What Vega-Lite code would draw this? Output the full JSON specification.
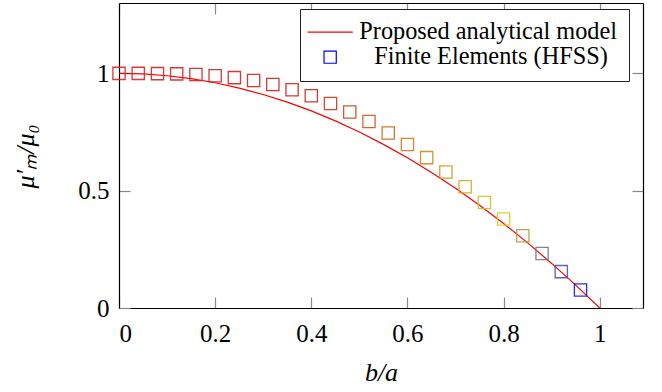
{
  "$schema": "https://vega.github.io/schema/vega-lite/v6.json",
  "autosize": "none",
  "width": 524,
  "height": 305,
  "padding": {"left": 119, "top": 3, "right": 19, "bottom": 84},
  "background": "white",
  "config": {
    "view": {"stroke": null},
    "font": "Liberation Serif",
    "style": {
      "guide-label": {"font": "Liberation Serif", "fontSize": 25, "fill": "black"},
      "guide-title": {"font": "Liberation Serif", "fontSize": 26, "fontStyle": "italic", "fontWeight": "normal", "fill": "black"}
    },
    "axis": {
      "grid": false,
      "labelFont": "Liberation Serif",
      "labelFontSize": 25,
      "labelColor": "black",
      "tickColor": "#888888",
      "tickWidth": 1.2,
      "tickSize": -11,
      "domainColor": "black",
      "domainWidth": 1.2,
      "titleFont": "Liberation Serif",
      "titleFontSize": 26,
      "titleFontStyle": "italic",
      "titleFontWeight": "normal",
      "titleColor": "black"
    }
  },
  "datasets": {
    "model": [
      {"b": 0, "mu": 1},
      {"b": 0.05, "mu": 0.9975},
      {"b": 0.1, "mu": 0.99},
      {"b": 0.15, "mu": 0.9775},
      {"b": 0.2, "mu": 0.96},
      {"b": 0.25, "mu": 0.9375},
      {"b": 0.3, "mu": 0.91},
      {"b": 0.35, "mu": 0.8775},
      {"b": 0.4, "mu": 0.84},
      {"b": 0.45, "mu": 0.7975},
      {"b": 0.5, "mu": 0.75},
      {"b": 0.55, "mu": 0.6975},
      {"b": 0.6, "mu": 0.64},
      {"b": 0.65, "mu": 0.5775},
      {"b": 0.7, "mu": 0.51},
      {"b": 0.75, "mu": 0.4375},
      {"b": 0.8, "mu": 0.36},
      {"b": 0.85, "mu": 0.2775},
      {"b": 0.9, "mu": 0.19},
      {"b": 0.95, "mu": 0.0975},
      {"b": 1.0, "mu": 0}
    ],
    "fem": [
      {"b": 0, "mu": 1.0},
      {"b": 0.04, "mu": 1.0},
      {"b": 0.08, "mu": 0.999},
      {"b": 0.12, "mu": 0.998},
      {"b": 0.16, "mu": 0.995},
      {"b": 0.2, "mu": 0.99},
      {"b": 0.24, "mu": 0.982},
      {"b": 0.28, "mu": 0.97},
      {"b": 0.32, "mu": 0.953},
      {"b": 0.36, "mu": 0.93},
      {"b": 0.4, "mu": 0.905},
      {"b": 0.44, "mu": 0.872},
      {"b": 0.48, "mu": 0.835},
      {"b": 0.52, "mu": 0.795},
      {"b": 0.56, "mu": 0.746},
      {"b": 0.6, "mu": 0.697},
      {"b": 0.64, "mu": 0.641},
      {"b": 0.68, "mu": 0.58},
      {"b": 0.72, "mu": 0.517},
      {"b": 0.76, "mu": 0.45},
      {"b": 0.8, "mu": 0.379},
      {"b": 0.84, "mu": 0.308},
      {"b": 0.88, "mu": 0.232},
      {"b": 0.92, "mu": 0.155},
      {"b": 0.96, "mu": 0.077}
    ]
  },
  "resolve": {"axis": {"x": "independent", "y": "independent"}},
  "layer": [
    {
      "data": {"name": "model"},
      "mark": {"type": "line", "color": "#ff0000", "strokeWidth": 1.2, "clip": true},
      "encoding": {
        "x": {
          "field": "b", "type": "quantitative",
          "scale": {"domain": [0, 1.09], "nice": false, "zero": false},
          "axis": {"orient": "bottom", "values": [0, 0.2, 0.4, 0.6, 0.8, 1], "format": "~g", "labelPadding": 24,
            "labelFont": "Liberation Serif", "labelFontSize": 25, "labelColor": "black",
            "title": "b/a", "titleFont": "Liberation Serif", "titleFontSize": 26, "titleFontStyle": "italic", "titleFontWeight": "normal",
            "titleX": 262, "titleY": 64, "titleBaseline": "middle",
            "encode": {
              "labels": {"update": {"font": {"value": "Liberation Serif"}}},
              "title": {"update": {"font": {"value": "Liberation Serif"}, "fontStyle": {"value": "italic"}}}
            }}
        },
        "y": {
          "field": "mu", "type": "quantitative",
          "scale": {"domain": [0, 1.3], "nice": false, "zero": false},
          "axis": {"orient": "left", "values": [0, 0.5, 1], "format": "~g", "labelPadding": 21,
            "labelFont": "Liberation Serif", "labelFontSize": 25, "labelColor": "black",
            "title": "μ′ₘ/μ₀", "titleFont": "Liberation Serif", "titleFontSize": 26, "titleFontStyle": "italic", "titleFontWeight": "normal",
            "titleX": -94, "titleY": 153, "titleAngle": -90, "titleBaseline": "middle", "titleAlign": "center",
            "encode": {
              "labels": {"update": {"font": {"value": "Liberation Serif"}}},
              "title": {"update": {"font": {"value": "Liberation Serif"}, "fontStyle": {"value": "italic"}}}
            }}
        },
        "color": {
          "datum": "Proposed analytical model",
          "scale": {"domain": ["Proposed analytical model", "Finite Elements (HFSS)"], "range": ["#ff0000", "#0000ff"]},
          "legend": {
            "orient": "none",
            "legendX": 181,
            "legendY": 6,
            "title": null,
            "padding": 11,
            "strokeColor": "#222222",
            "fillColor": "white",
            "cornerRadius": 0,
            "labelFont": "Liberation Serif",
            "labelFontSize": 24.3,
            "labelColor": "black",
            "labelLimit": 0,
            "labelOffset": 17,
            "symbolSize": 150,
            "symbolOffset": 7,
            "rowPadding": 0,
            "encode": {
              "symbols": {
                "update": {
                  "shape": {"signal": "datum.value === 'Proposed analytical model' ? 'M-3.7,0H3.7' : 'square'"},
                  "fill": {"value": "transparent"},
                  "stroke": {"signal": "datum.value === 'Proposed analytical model' ? '#ff0000' : '#0000ff'"},
                  "strokeWidth": {"value": 1.2},
                  "opacity": {"value": 1}
                }
              },
              "labels": {
                "update": {
                  "dx": {"signal": "datum.value === 'Proposed analytical model' ? 0 : 15"}
                }
              }
            }
          }
        }
      }
    },
    {
      "data": {"name": "fem"},
      "mark": {"type": "point", "shape": "square", "filled": false, "size": 150, "strokeWidth": 1.3, "opacity": 0.9},
      "encoding": {
        "x": {"field": "b", "type": "quantitative", "axis": null},
        "y": {"field": "mu", "type": "quantitative", "axis": null},
        "color": {"datum": "Finite Elements (HFSS)"},
        "stroke": {
          "field": "b", "type": "quantitative",
          "scale": {
            "domain": [0, 0.2, 0.4, 0.48, 0.56, 0.64, 0.72, 0.8, 0.84, 0.88, 0.92, 0.96],
            "range": ["#dc2424", "#d42020", "#c8281c", "#cc4818", "#d06a1c", "#d08818", "#d8a820", "#d8d020", "#a8a040", "#787878", "#5050b8", "#1818d8"],
            "interpolate": "rgb"
          },
          "legend": null
        }
      }
    },
    {
      "data": {"name": "model"},
      "mark": {"type": "line", "opacity": 0},
      "encoding": {
        "x": {"field": "b", "type": "quantitative", "axis": {"orient": "top", "values": [0, 0.2, 0.4, 0.6, 0.8, 1], "labels": false, "title": null}},
        "y": {"field": "mu", "type": "quantitative", "axis": {"orient": "right", "values": [0, 0.5, 1], "labels": false, "title": null}}
      }
    }
  ]
}
